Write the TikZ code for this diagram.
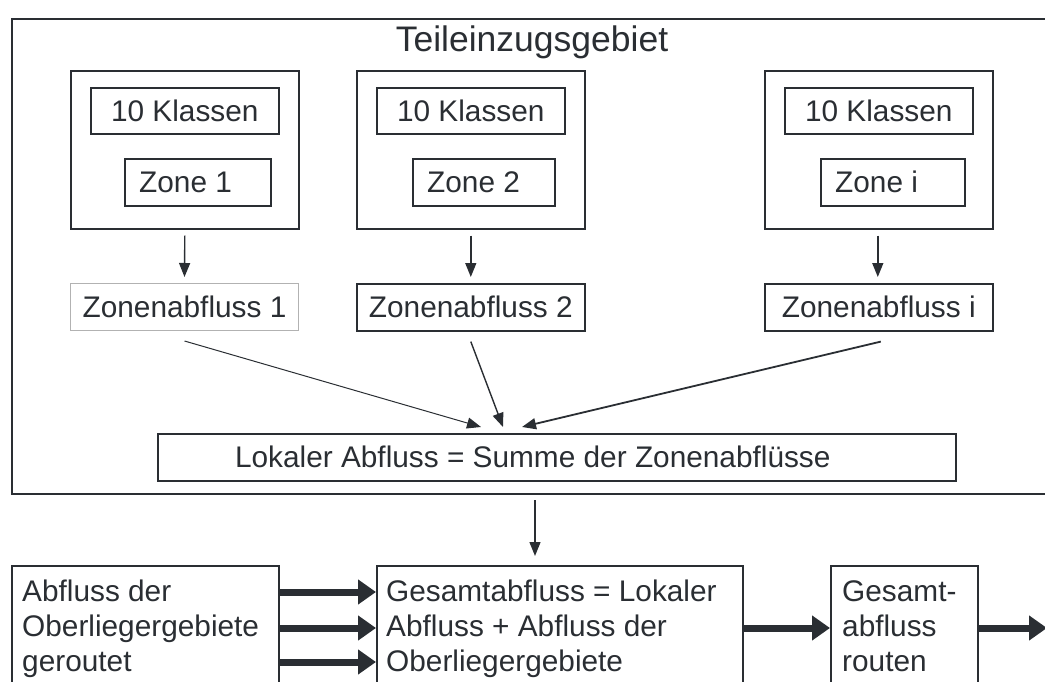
\documentclass[tikz,border=0pt]{standalone}
\usepackage{fontspec}
\setmainfont{Liberation Sans}
\usetikzlibrary{arrows.meta}
\definecolor{ink}{HTML}{2A2E33}
\tikzset{
  box/.style={draw=ink, line width=1.6pt, inner sep=0pt, anchor=north west},
  lbl/.style={text=ink, font=\fontsize{29.8}{36}\selectfont, inner sep=0pt},
  thin/.style={draw=ink, line width=1.4pt, -{Triangle[length=14pt,width=11pt]}},
  fat/.style={draw=ink, line width=7pt, -{Triangle[length=18pt,width=24pt]}},
}
\begin{document}
\begin{tikzpicture}[x=1pt,y=-1pt]
\useasboundingbox (0,0) rectangle (1045,682);
\begin{scope}
\clip (0,0) rectangle (1045,682);
% outer
\node[box, minimum width=1060pt, minimum height=475pt] (outer) at (11,18) {};
\node[lbl, font=\fontsize{35.5}{40}\selectfont] (title) at (532,42) {Teileinzugsgebiet};
% column boxes
\foreach \n/\x in {1/70,2/356,3/764}{
  \node[box, minimum width=228pt, minimum height=158pt] (col\n) at (\x,70) {};
}
\node[box, minimum width=188pt, minimum height=46pt] (k1) at (90,87) {};
\node[lbl] at (k1.center) {10 Klassen};
\node[box, minimum width=188pt, minimum height=46pt] (k2) at (376,87) {};
\node[lbl] at (k2.center) {10 Klassen};
\node[box, minimum width=188pt, minimum height=46pt] (k3) at (784,87) {};
\node[lbl] at (k3.center) {10 Klassen};
\node[box, minimum width=146pt, minimum height=47pt] (z1) at (124,158) {};
\node[lbl, anchor=west] at ([xshift=15pt]z1.west) {Zone 1};
\node[box, minimum width=142pt, minimum height=47pt] (z2) at (412,158) {};
\node[lbl, anchor=west] at ([xshift=15pt]z2.west) {Zone 2};
\node[box, minimum width=144pt, minimum height=47pt] (z3) at (820,158) {};
\node[lbl, anchor=west] at ([xshift=15pt]z3.west) {Zone i};
% Zonenabfluss
\node[box, draw=gray!60, line width=1pt, minimum width=228pt, minimum height=47pt] (a1) at (70,283) {};
\node[lbl] at (a1.center) {Zonenabfluss 1};
\node[box, minimum width=228pt, minimum height=47pt] (a2) at (356,283) {};
\node[lbl] at (a2.center) {Zonenabfluss 2};
\node[box, minimum width=228pt, minimum height=47pt] (a3) at (764,283) {};
\node[lbl] at (a3.center) {Zonenabfluss i};
\draw[thin] ([yshift=-6pt]col1.south) -- ([yshift=6pt]a1.north);
\draw[thin] ([yshift=-6pt]col2.south) -- ([yshift=6pt]a2.north);
\draw[thin] ([xshift=-1pt,yshift=-6pt]col3.south) -- ([xshift=-1pt,yshift=6pt]a3.north);
% Lokaler
\node[box, minimum width=798pt, minimum height=47pt] (lok) at (157,433) {};
\node[lbl] at ([xshift=-24pt]lok.center) {Lokaler Abfluss = Summe der Zonenabflüsse};
\coordinate (t1) at (481,427);
\coordinate (t2) at (503,427);
\coordinate (t3) at (522,427);
\draw[thin, line width=1pt] ([yshift=-10pt]a1.south) -- (t1);
\draw[thin] ([yshift=-10pt]a2.south) -- (t2);
\draw[thin, line width=1.8pt] ([xshift=2pt,yshift=-10pt]a3.south) -- (t3);
% bottom
\node[box, minimum width=267pt, minimum height=140pt] (ob) at (11,565) {};
\node[box, minimum width=366pt, minimum height=140pt] (ges) at (376,565) {};
\node[box, minimum width=147pt, minimum height=140pt] (rt) at (830,565) {};
\node[lbl, anchor=north west, align=left, font=\fontsize{29.8}{35}\selectfont] (obt) at (22,580) {Abfluss der\\Oberliegergebiete\\geroutet};
\node[lbl, anchor=north west, align=left, font=\fontsize{29.8}{35}\selectfont] (gest) at (386,580) {Gesamtabfluss = Lokaler\\Abfluss + Abfluss der\\Oberliegergebiete};
\node[lbl, anchor=north west, align=left, font=\fontsize{29.8}{35}\selectfont] (rtt) at (842,580) {Gesamt-\\abfluss\\routen};
\coordinate (s0) at (535,500);
\draw[thin] (s0) -- ([yshift=9pt]ges.north -| s0);
\foreach \y in {592,628,662}{
  \draw[fat] (279,\y) -- (376,\y);
}
\draw[fat] (ges.east |- 0,628) -- (rt.west |- 0,628);
\draw[fat] (rt.east |- 0,628) -- (1047,628);
\end{scope}
\end{tikzpicture}
\end{document}
